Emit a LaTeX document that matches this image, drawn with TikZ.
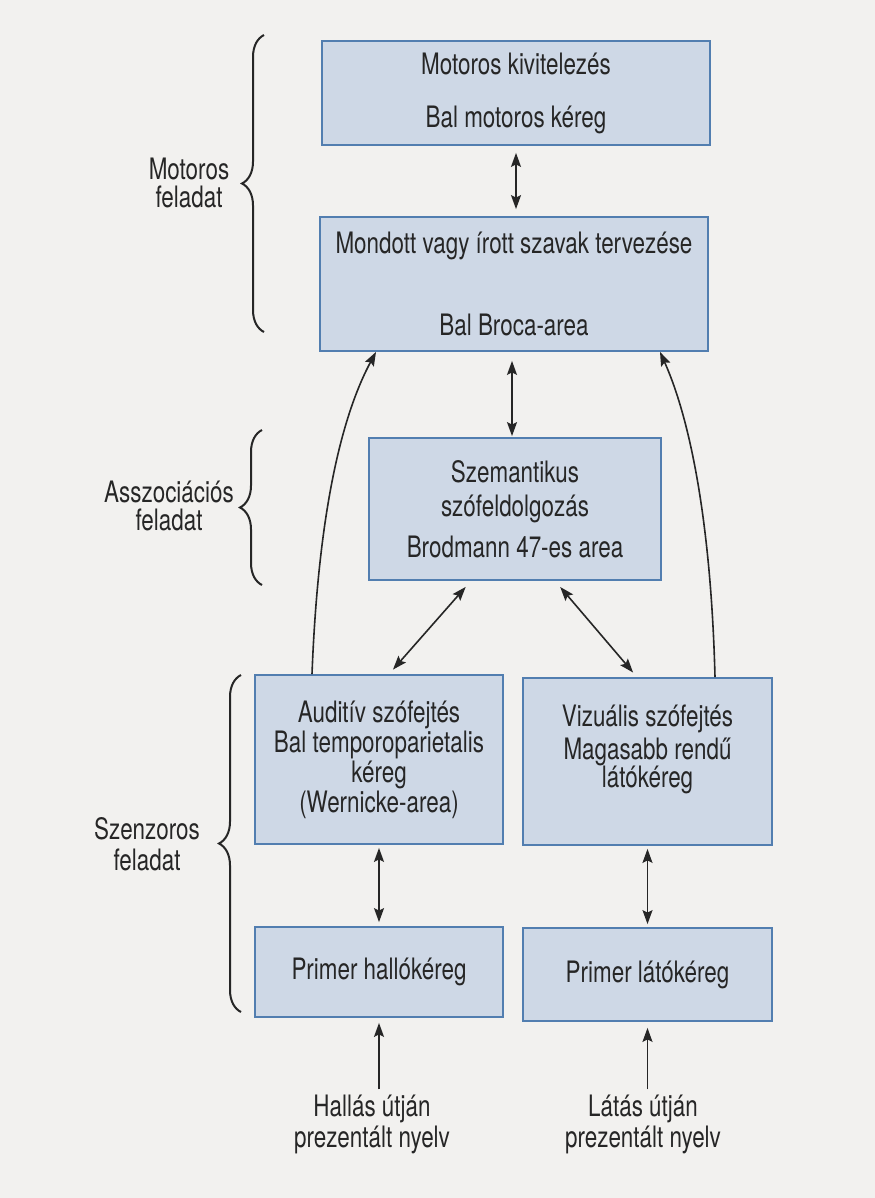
\documentclass[tikz,border=0pt]{standalone}
\usepackage{fontspec}
\setmainfont[FakeStretch=0.76]{TeX Gyre Heros}
\usetikzlibrary{arrows.meta,decorations.pathreplacing}
\definecolor{bgcol}{RGB}{242,241,239}
\definecolor{boxfill}{RGB}{206,216,230}
\definecolor{boxline}{RGB}{82,126,176}
\definecolor{ink}{RGB}{38,38,38}
\tikzset{
  box/.style={draw=boxline, fill=boxfill, line width=1.8bp, inner sep=0pt, align=center, text=ink},
  tip/.tip={Stealth[length=14bp,width=10bp,inset=2.5bp]},
  arr/.style={-tip, line width=1.6bp, draw=ink},
  darr/.style={tip-tip, line width=1.6bp, draw=ink},
  brc/.style={decorate, decoration={brace, amplitude=22bp}, line width=2bp, draw=ink},
  lbl/.style={align=center, inner sep=0pt, text=ink}
}
\begin{document}
\begin{tikzpicture}[x=1bp, y=-1bp, font=\fontsize{29.5bp}{31bp}\selectfont]
\fill[bgcol] (0,0) rectangle (875,1198);
\useasboundingbox (0,0) rectangle (875,1198);

% boxes
\node[box, minimum width=388bp, minimum height=104bp] (b1) at (516,93)
  {Motoros kivitelezés\\[22bp]Bal motoros kéreg};
\node[box, minimum width=388bp, minimum height=134bp] (b2) at (514,284)
  {Mondott vagy írott szavak tervezése\\[51bp]Bal Broca-area};
\node[box, minimum width=292bp, minimum height=142bp] (b3) at (515,509)
  {Szemantikus\\[3bp]szófeldolgozás\\[10bp]Brodmann 47-es area};
\node[box, minimum width=248bp, minimum height=169bp] (b4) at (379,759.5)
  {Auditív szófejtés\\[-1bp]Bal temporoparietalis\\[-1bp]kéreg\\[-1bp](Wernicke-area)};
\node[box, minimum width=249bp, minimum height=167bp] (b5) at (647.5,761.5)
  {Vizuális szófejtés\\[2bp]Magasabb rendű\\[-3bp]látókéreg\\\mbox{}};
\node[box, minimum width=248bp, minimum height=90bp] (b6) at (379,972)
  {Primer hallókéreg};
\node[box, minimum width=249bp, minimum height=93bp] (b7) at (647.5,974.5)
  {Primer látókéreg};

% input labels
\node[lbl] (hal) at (372,1124) {Hallás útján\\prezentált nyelv};
\node[lbl] (lat) at (643,1124) {Látás útján\\prezentált nyelv};

% side labels and braces
\node[lbl] (mot) at (189,183) {Motoros\\[-3bp]feladat};
\node[lbl] (ass) at (169,506) {Asszociációs\\[-3bp]feladat};
\node[lbl] (sze) at (147,844) {Szenzoros\\feladat};
\draw[brc] (264,332) -- (264,35);
\draw[brc] (262,585) -- (262,430);
\draw[brc] (241,1012) -- (241,675);

% connectors
\draw[darr, shorten <=7bp, shorten >=7bp] (b1.south) -- (b1.south |- b2.north);
\draw[darr, shorten <=9bp, shorten >=1bp] ([xshift=-2bp]b2.south) -- ([xshift=-3bp]b3.north);
\draw[darr, shorten <=8bp, shorten >=6bp] ([xshift=-44bp]b3.south) -- ([xshift=10bp]b4.north);
\draw[darr, shorten <=8bp, shorten >=6bp] ([xshift=40bp]b3.south) -- ([xshift=-10.5bp]b5.north);
\draw[darr, shorten <=3bp, shorten >=4bp] (b4.south) -- (b6.north);
\draw[darr, shorten <=3bp, shorten >=3bp] (b5.south) -- (b7.north);
\draw[arr, shorten >=5bp] (hal.north -| b6.south) ++(0,-5) -- (b6.south);
\draw[arr, shorten >=6bp] (lat.north -| b7.south) ++(0,-5) -- (b7.south);
\draw[arr] ([xshift=-67bp]b4.north) .. controls +(6,-155) and +(-36,67) .. ([xshift=-138bp]b2.south);
\draw[arr] ([xshift=67.5bp]b5.north) .. controls +(-4,-155) and +(30,67) .. ([xshift=146bp]b2.south);
\end{tikzpicture}
\end{document}
